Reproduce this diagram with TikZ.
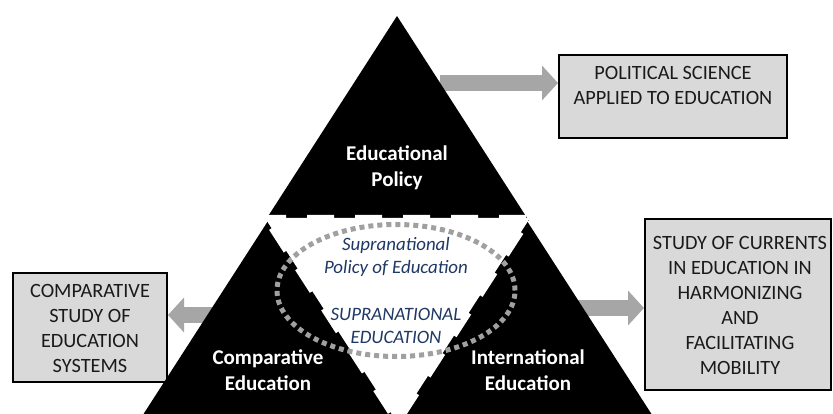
\documentclass[tikz,border=0pt]{standalone}
\usepackage{fontspec}
\setmainfont{Carlito}
\usetikzlibrary{arrows.meta}
\definecolor{arrowgray}{HTML}{A6A6A6}
\definecolor{boxgray}{HTML}{D9D9D9}
\definecolor{textdark}{HTML}{1A1A1A}
\definecolor{supblue}{HTML}{1F3864}
\definecolor{dotgray}{HTML}{A0A0A0}
\tikzset{
  box/.style={draw=black, line width=2pt, fill=boxgray, inner sep=0pt},
  boxtext/.style={align=center, text=textdark, font=\fontsize{20.3pt}{25pt}\selectfont, inner sep=0pt},
  whitelabel/.style={align=center, text=white, font=\bfseries\fontsize{21pt}{25.5pt}\selectfont, inner sep=0pt},
  bluelabel/.style={align=center, text=supblue, font=\itshape\fontsize{18.9pt}{22.5pt}\selectfont, inner sep=0pt},
  blockarrow/.style={draw=arrowgray, line width=16pt, -{Triangle[length=16pt,width=34pt]}, arrowgray},
  trifill/.style={fill=black},
}
\begin{document}
\begin{tikzpicture}[x=1pt,y=-1pt]
\useasboundingbox (0,0) rectangle (833,414);
% boxes
\node[box, minimum width=228pt, minimum height=83pt] (b1) at (673,96.5) {};
\node[box, minimum width=154pt, minimum height=109pt] (b2) at (90,327.5) {};
\node[box, minimum width=186pt, minimum height=171pt] (b3) at (738,304.5) {};
% arrows
\coordinate (a1s) at (440,83);
\coordinate (a2s) at (240,315);
\coordinate (a3s) at (560,308);
\draw[blockarrow] (a1s) -- (a1s -| b1.west);
\draw[blockarrow] (a2s) -- (a2s -| b2.east);
\draw[blockarrow] (a3s) -- (a3s -| b3.west);
% triangles
\begin{scope}
\clip (0,0) rectangle (833,414);
\coordinate (tA) at (397,16);
\coordinate (tB) at (265,221);
\coordinate (tC) at (529,221);
\coordinate (lA) at (268,221);
\coordinate (lB) at (139,421);
\coordinate (lC) at (397,421);
\coordinate (rA) at (527,221);
\coordinate (rB) at (398,421);
\coordinate (rC) at (656,421);
\coordinate (wA) at (265,218);
\coordinate (wB) at (530,218);
\coordinate (wC) at (397.5,423);
\fill[trifill] (tA) -- (tB) -- (tC) -- cycle;
\fill[trifill] (lA) -- (lB) -- (lC) -- cycle;
\fill[trifill] (rA) -- (rB) -- (rC) -- cycle;
\fill[white] (wA) -- (wB) -- (wC) -- cycle;
\draw[white, line width=6pt, dash pattern=on 27pt off 21pt, dash phase=6pt] (wA) -- (wB) -- (wC) -- cycle;
\end{scope}
% dotted ellipse
\draw[dotgray, line width=5pt, dash pattern=on 5pt off 4pt] (396,290.5) ellipse [x radius=119pt, y radius=66pt];
% labels
\node[whitelabel] (ep) at (397,168) {Educational\\Policy};
\node[whitelabel] (ce) at (268,370) {Comparative\\Education};
\node[whitelabel] (ie) at (528,370) {International\\Education};
\node[bluelabel] (spe) at (396,257) {Supranational\\Policy of Education};
\node[bluelabel] (se) at (396,326) {SUPRANATIONAL\\EDUCATION};
\node[boxtext] (t1) at (673,85) {POLITICAL SCIENCE\\APPLIED TO EDUCATION};
\node[boxtext] (t2) at (90,328) {COMPARATIVE\\STUDY OF\\EDUCATION\\SYSTEMS};
\node[boxtext] (t3) at (740,305) {STUDY OF CURRENTS\\IN EDUCATION IN\\HARMONIZING\\AND\\FACILITATING\\MOBILITY};
\end{tikzpicture}
\end{document}
